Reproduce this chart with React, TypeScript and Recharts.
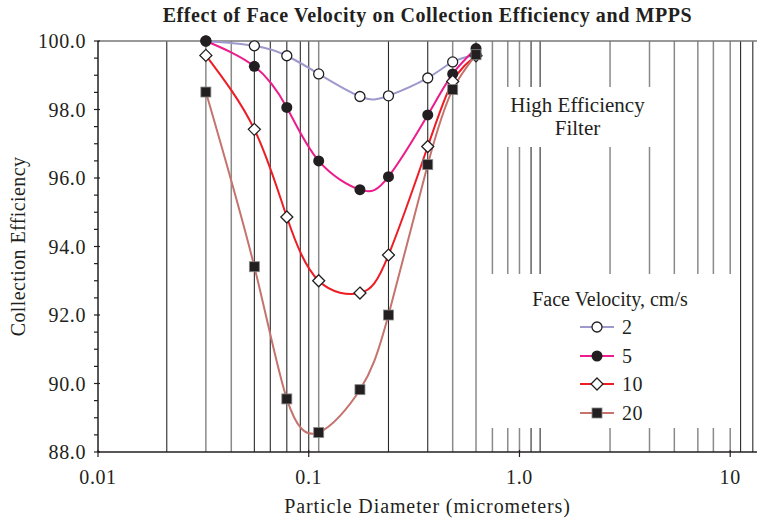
import React from "react";
import {
  LineChart,
  Line,
  XAxis,
  YAxis,
  ReferenceLine,
  Legend,
  Label,
} from "recharts";

// particle diameters (micrometers) and collection efficiency (%) per face velocity
const diameters = [0.0325, 0.0552, 0.0787, 0.1115, 0.175, 0.239, 0.367, 0.482, 0.622];
const eff2 = [100.0, 99.86, 99.57, 99.04, 98.38, 98.4, 98.92, 99.39, 99.6];
const eff5 = [100.0, 99.26, 98.06, 96.5, 95.66, 96.04, 97.84, 99.04, 99.78];
const eff10 = [99.58, 97.42, 94.86, 93.0, 92.64, 93.75, 96.92, 98.82, 99.57];
const eff20 = [98.51, 93.41, 89.55, 88.57, 89.82, 92.0, 96.39, 98.58, 99.6];

const xTicks = [0.01, 0.1, 1, 10];
const xTickLabels = ["0.01", "0.1", "1.0", "10"];
const yTicks = [88, 88.5, 89, 89.5, 90, 90.5, 91, 91.5, 92, 92.5, 93, 93.5, 94, 94.5, 95, 95.5, 96, 96.5, 97, 97.5, 98, 98.5, 99, 99.5, 100];

// instrument channel boundaries drawn as vertical grid lines
const gridDark = [0.0212, 0.0552, 0.0657, 0.0787, 0.0912, 0.1, 0.239, 0.367, 1.135, 1.253, 11.2, 12.8];
const gridGray = [0.0325, 0.0429, 0.1115, 0.482, 0.622, 0.744, 0.88, 1.0, 2.69, 4.14, 5.43, 7.02, 8.32, 10];

const seriesNames = ["2", "5", "10", "20"];
const seriesKeys = ["e2", "e5", "e10", "e20"];
const seriesColors = ["#9d99cc", "#ec1c8c", "#ee1c24", "#c4736d"];
const seriesShapes = ["openCircle", "circle", "diamond", "square"];

const data = diameters.map((d, i) => ({
  d,
  e2: eff2[i],
  e5: eff5[i],
  e10: eff10[i],
  e20: eff20[i],
}));

const INK = "#231f20";
const FONT = "'Liberation Serif', 'Times New Roman', serif";

const Marker = ({ cx, cy, shape }: { cx: number; cy: number; shape: string }) => {
  if (cx == null || cy == null) return null;
  switch (shape) {
    case "openCircle":
      return <circle cx={cx} cy={cy} r={5} fill="#fff" stroke={INK} strokeWidth={1.3} />;
    case "circle":
      return <circle cx={cx} cy={cy} r={5.5} fill={INK} />;
    case "diamond":
      return (
        <path
          d={`M${cx},${cy - 6}L${cx + 6},${cy}L${cx},${cy + 6}L${cx - 6},${cy}Z`}
          fill="#fff"
          stroke={INK}
          strokeWidth={1.3}
        />
      );
    default:
      return <rect x={cx - 5} y={cy - 5} width={10} height={10} fill={INK} stroke="#888" strokeWidth={0.8} />;
  }
};

const YTick = (props: any) => {
  const { x, y, payload } = props;
  const major = payload.value % 2 === 0;
  return (
    <g>
      <line x1={x - 4} x2={major ? x + 2 : x} y1={y} y2={y} stroke={INK} strokeWidth={1.2} />
      {major && (
        <text x={x - 12} y={y} dy="0.35em" textAnchor="end" fill={INK} fontSize={20} letterSpacing={0.6} fontFamily={FONT}>
          {payload.value.toFixed(1)}
        </text>
      )}
    </g>
  );
};

const XTick = (props: any) => {
  const { x, y, payload } = props;
  const idx = xTicks.indexOf(payload.value);
  return (
    <g>
      <line x1={x} x2={x} y1={y - 2} y2={y + 5} stroke={INK} strokeWidth={1.2} />
      <text x={x} y={y + 25} dy="0.35em" textAnchor="middle" fill={INK} fontSize={20} letterSpacing={0.6} fontFamily={FONT}>
        {xTickLabels[idx]}
      </text>
    </g>
  );
};

const LegendBox = () => (
  <div style={{ position: "relative", width: 250, height: 154, background: "#fff", fontFamily: FONT, fontSize: 20, color: INK }}>
    <div style={{ position: "absolute", top: 13, width: "100%", textAlign: "center", lineHeight: "24px" }}>
      Face Velocity, cm/s
    </div>
    {seriesNames.map((name, i) => (
      <div key={name} style={{ position: "absolute", left: 93, top: 41 + i * 28.6, height: 24, display: "flex", alignItems: "center" }}>
        <svg width={38} height={20}>
          <line x1={2} x2={36} y1={10} y2={10} stroke={seriesColors[i]} strokeWidth={2} />
          <Marker cx={19} cy={10} shape={seriesShapes[i]} />
        </svg>
        <span style={{ marginLeft: 6, lineHeight: "24px", letterSpacing: 0.6 }}>{name}</span>
      </div>
    ))}
  </div>
);

export default function App() {
  return (
    <div style={{ position: "absolute", left: 0, top: 0, width: 757, height: 519, background: "#fff" }}>
      <div
        style={{
          position: "absolute",
          left: 98,
          top: 4,
          width: 659,
          textAlign: "center",
          fontFamily: FONT,
          fontWeight: "bold",
          fontSize: 20,
          letterSpacing: 0.6,
          lineHeight: "22px",
          color: INK,
        }}
      >
        Effect of Face Velocity on Collection Efficiency and MPPS
      </div>
      <LineChart width={757} height={519} data={data} margin={{ top: 41, right: 0, bottom: 0, left: 0 }}>
        {gridGray.map((v) => (
          <ReferenceLine key={`g${v}`} x={v} stroke="#8a8a8a" strokeWidth={1.5} />
        ))}
        {gridDark.map((v) => (
          <ReferenceLine key={`k${v}`} x={v} stroke="#2a2a2a" strokeWidth={1.1} />
        ))}
        <ReferenceLine y={100} stroke="#777" strokeWidth={1.5} />
        <XAxis
          dataKey="d"
          type="number"
          scale="log"
          domain={[0.01, 13.4]}
          allowDataOverflow
          ticks={xTicks}
          tick={<XTick />}
          tickLine={false}
          tickSize={0}
          tickMargin={0}
          height={67}
          stroke={INK}
          strokeWidth={1.5}
        >
          <Label
            content={(p: any) => {
              const vb = p.viewBox;
              return (
                <text x={vb.x + vb.width / 2} y={vb.y + 54} dy="0.35em" textAnchor="middle" fill={INK} fontSize={20} letterSpacing={0.9} fontFamily={FONT}>
                  Particle Diameter (micrometers)
                </text>
              );
            }}
          />
        </XAxis>
        <YAxis
          type="number"
          domain={[88, 100]}
          ticks={yTicks}
          interval={0}
          tick={<YTick />}
          tickLine={false}
          tickSize={0}
          tickMargin={0}
          width={98}
          stroke={INK}
          strokeWidth={1.5}
        >
          <Label
            content={(p: any) => {
              const vb = p.viewBox;
              const cx = 18;
              const cy = vb.y + vb.height / 2;
              return (
                <text x={cx} y={cy} dy="0.35em" textAnchor="middle" transform={`rotate(-90 ${cx} ${cy})`} fill={INK} fontSize={20} letterSpacing={0.4} fontFamily={FONT}>
                  Collection Efficiency
                </text>
              );
            }}
          />
        </YAxis>
        {seriesKeys.map((k, i) => (
          <Line
            key={k}
            dataKey={k}
            type="natural"
            stroke={seriesColors[i]}
            strokeWidth={2}
            isAnimationActive={false}
            dot={(p: any) => <Marker key={`${k}-${p.index}`} cx={p.cx} cy={p.cy} shape={seriesShapes[i]} />}
            activeDot={false}
          />
        ))}
        <Legend
          layout="horizontal"
          verticalAlign="middle"
          align="center"
          content={() => <LegendBox />}
          wrapperStyle={{ position: "absolute", left: 485, top: 274, width: 250, height: 154 }}
        />
      </LineChart>
      <div
        style={{
          position: "absolute",
          left: 500,
          top: 87,
          width: 155,
          height: 60,
          background: "#fff",
          fontFamily: FONT,
          fontSize: 21,
          lineHeight: "23px",
          color: INK,
          textAlign: "center",
          paddingTop: 7,
          boxSizing: "border-box",
        }}
      >
        High Efficiency
        <br />
        Filter
      </div>
    </div>
  );
}
